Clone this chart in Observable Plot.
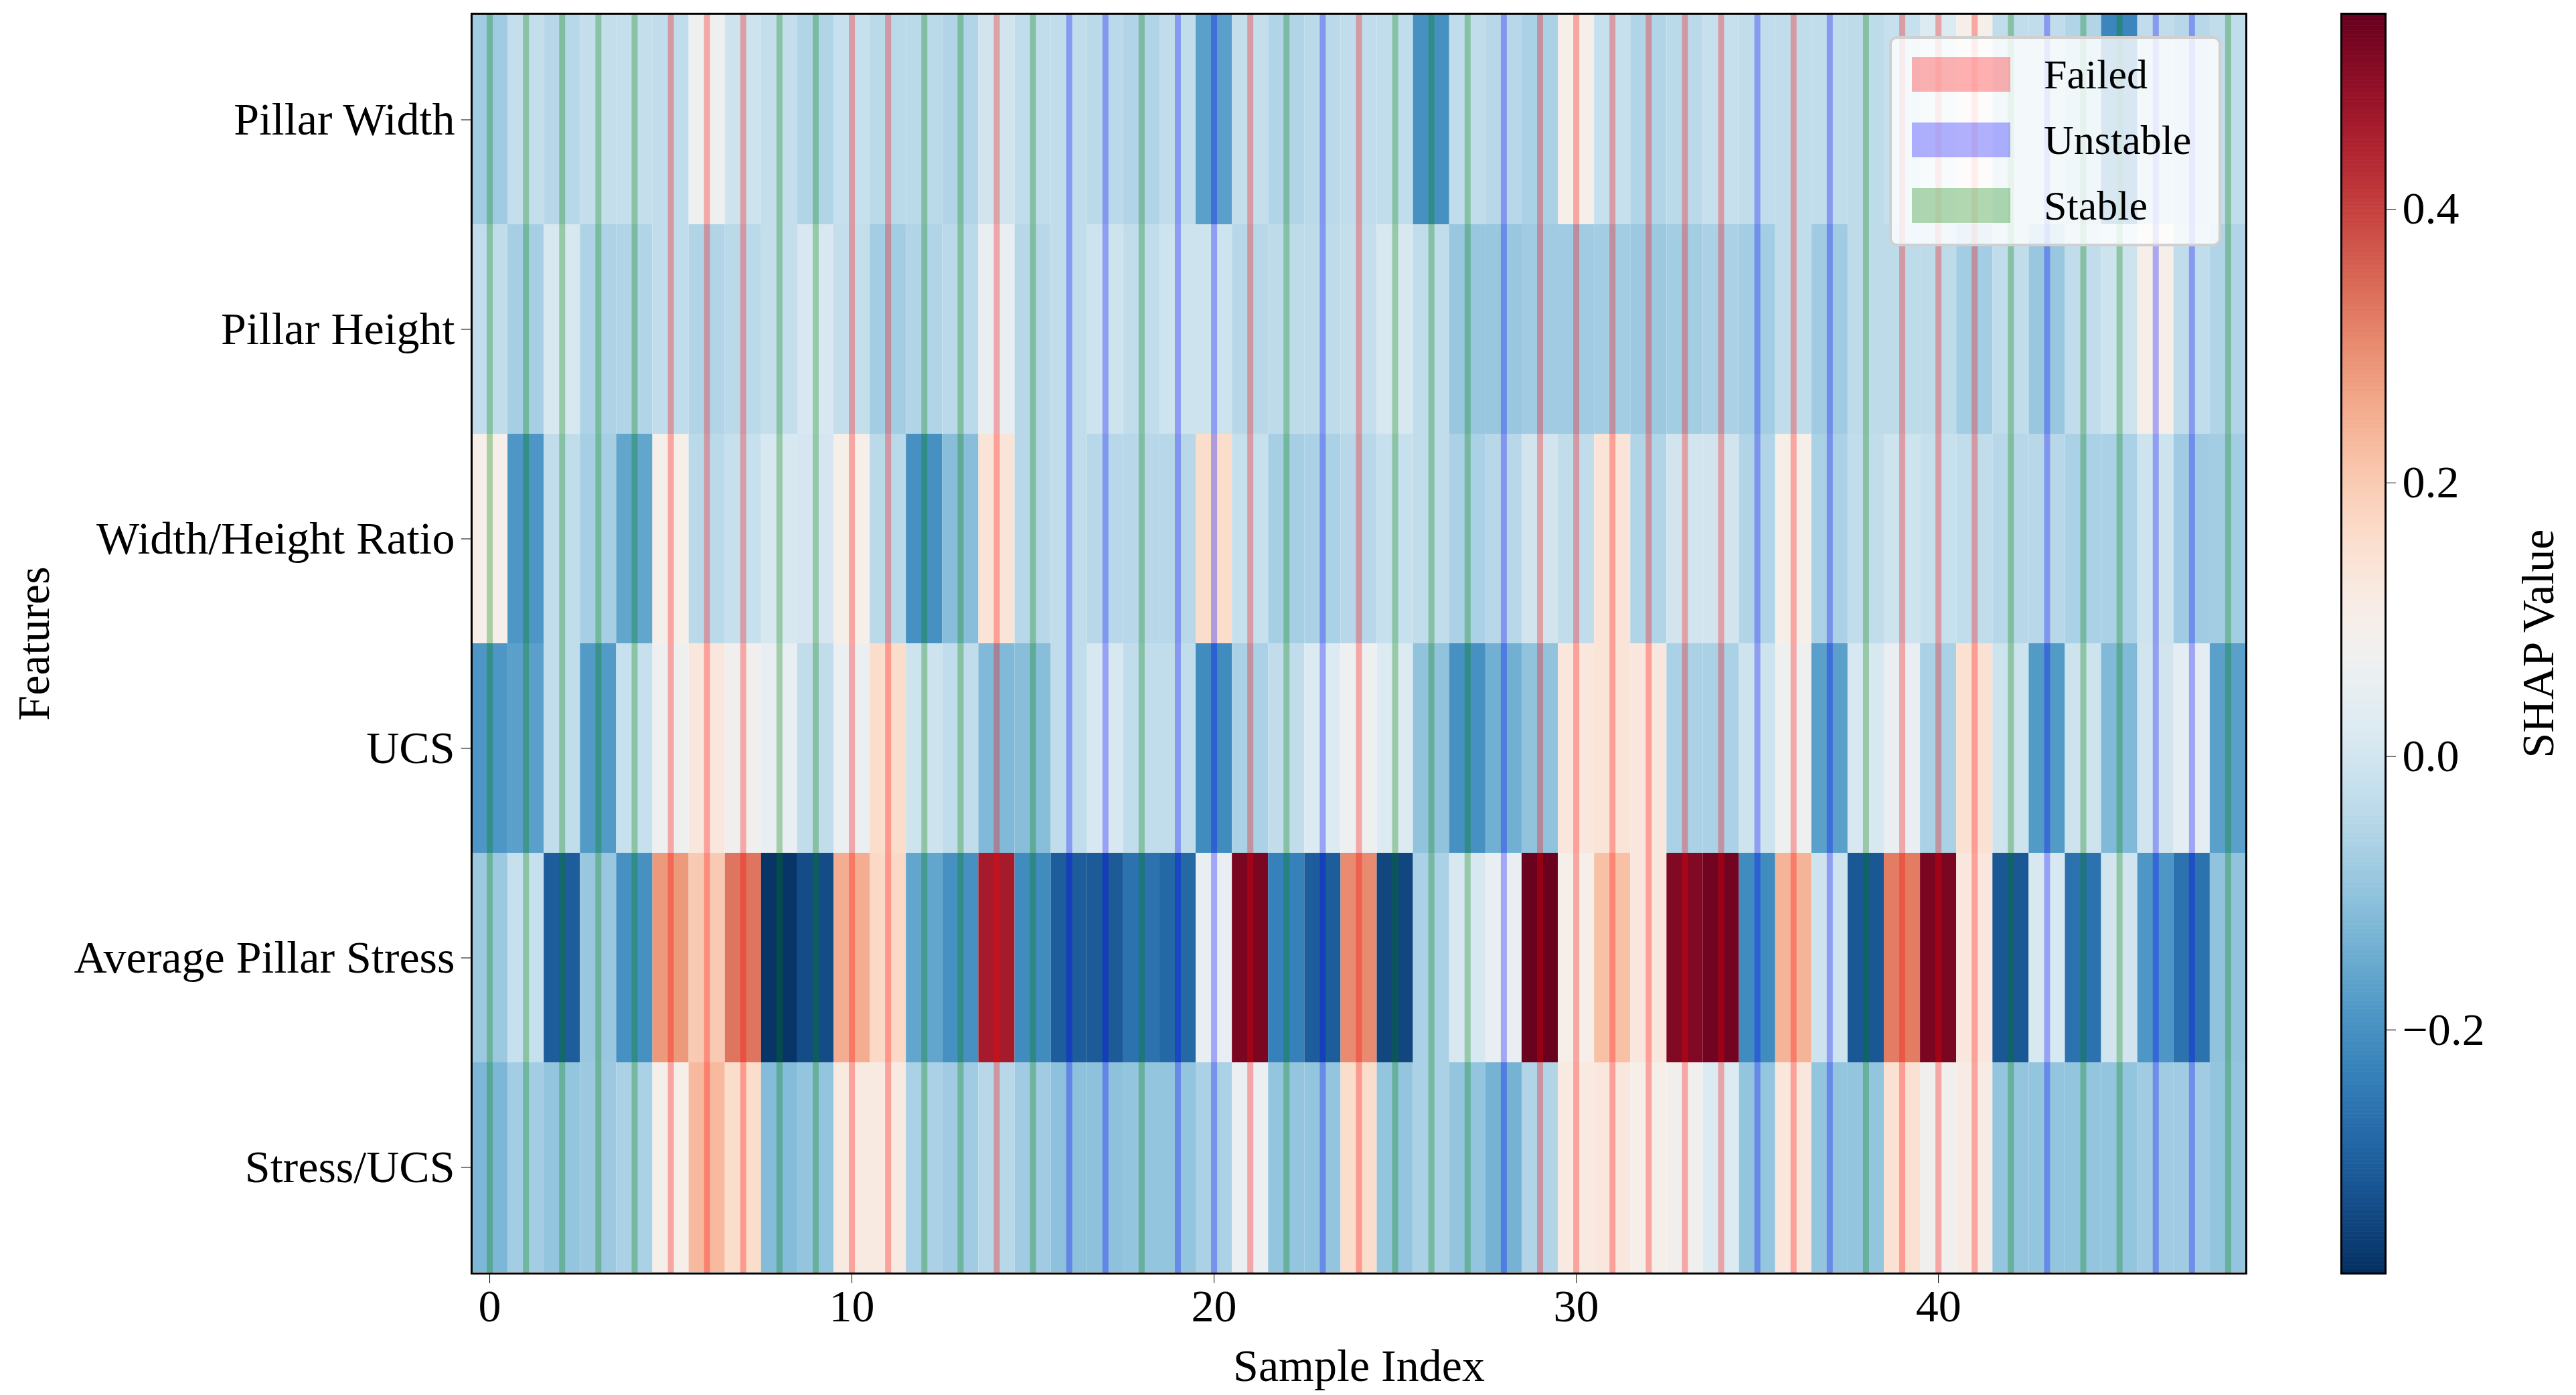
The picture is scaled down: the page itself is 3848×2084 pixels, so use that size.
<!DOCTYPE html>
<html><head><meta charset="utf-8">
<script src="https://cdn.jsdelivr.net/npm/d3@7"></script>
<script src="https://cdn.jsdelivr.net/npm/@observablehq/plot@0.6"></script>
<style>
body{margin:0;background:#fff;width:3848px;height:2084px;position:relative;overflow:hidden;font-family:"Liberation Serif","DejaVu Serif",serif;}
#main{position:absolute;left:0;top:0}
#cbar{position:absolute;left:3430px;top:0}
#legend{position:absolute;left:2822px;top:54px;width:496px;height:314px;background:rgba(255,255,255,0.8);border:4px solid #d0d0d0;border-radius:12px;box-sizing:border-box;padding:4px 30px;}
.row{display:flex;align-items:center;height:98px;font-size:62px;}
.sw{width:147px;height:52px;margin-right:50px;}
</style></head>
<body>
<div id="main"></div><div id="cbar"></div>
<div id="legend">
<div class="row"><div class="sw" style="background:rgba(255,0,0,0.3)"></div>Failed</div>
<div class="row"><div class="sw" style="background:rgba(0,0,255,0.3)"></div>Unstable</div>
<div class="row"><div class="sw" style="background:rgba(0,128,0,0.3)"></div>Stable</div>
</div>
<script>
const features = ["Pillar Width","Pillar Height","Width/Height Ratio","UCS","Average Pillar Stress","Stress/UCS"];
const pillarWidth = [-0.08,-0.025,-0.045,-0.025,-0.025,-0.03,0.07,-0.01,-0.025,-0.055,-0.02,-0.04,-0.04,-0.055,0.0,-0.03,-0.03,-0.04,-0.055,-0.03,-0.17,-0.025,-0.055,-0.04,-0.03,-0.03,-0.2,-0.03,-0.045,-0.065,0.1,-0.02,-0.055,-0.04,-0.02,-0.03,-0.03,-0.03,-0.035,-0.02,0.02,0.1,-0.03,-0.03,-0.055,-0.22,-0.03,-0.045,-0.03];
const pillarHeight = [-0.03,-0.07,0.01,-0.06,-0.055,-0.03,-0.055,-0.04,-0.025,0.01,-0.025,-0.075,-0.055,-0.04,0.05,-0.045,-0.03,-0.01,-0.03,-0.01,-0.01,-0.045,-0.035,-0.035,-0.025,0.01,-0.03,-0.09,-0.09,-0.08,-0.08,-0.075,-0.085,-0.075,-0.065,-0.075,-0.03,-0.08,-0.035,-0.035,-0.035,-0.075,-0.03,-0.09,-0.03,-0.01,0.1,-0.03,-0.055];
const whRatio = [0.1,-0.19,-0.03,-0.07,-0.16,0.1,-0.04,-0.02,0.01,0.005,0.1,-0.04,-0.2,-0.11,0.14,-0.045,-0.03,-0.045,-0.045,-0.045,0.16,-0.02,-0.07,-0.065,-0.045,-0.02,-0.03,-0.065,-0.045,0.0,-0.03,0.14,-0.055,0.0,0.0,-0.055,0.1,-0.065,-0.03,-0.01,-0.02,-0.03,-0.045,-0.045,-0.065,-0.065,-0.01,-0.08,-0.075];
const ucs = [-0.19,-0.17,-0.03,-0.18,-0.02,0.07,0.13,0.08,0.05,-0.03,0.06,0.16,-0.01,-0.03,-0.12,-0.11,-0.03,0.01,-0.03,-0.03,-0.21,-0.065,-0.03,0.02,0.07,0.02,-0.1,-0.2,-0.14,-0.1,0.13,0.14,0.13,-0.065,-0.065,-0.01,0.07,-0.17,0.01,0.05,-0.065,0.15,-0.01,-0.18,-0.01,-0.12,0.0,0.04,-0.17];
const avgStress = [-0.085,-0.02,-0.3,-0.09,-0.2,0.28,0.2,0.33,-0.37,-0.33,0.25,0.17,-0.16,-0.2,0.46,-0.21,-0.3,-0.305,-0.26,-0.28,0.05,0.52,-0.23,-0.3,0.3,-0.34,-0.065,0.01,0.05,0.54,0.1,0.22,0.13,0.51,0.53,-0.21,0.24,-0.01,-0.31,0.32,0.52,0.13,-0.31,0.01,-0.26,0.0,-0.19,-0.26,-0.1];
const stressUcs = [-0.125,-0.075,-0.095,-0.085,-0.065,0.1,0.23,0.16,-0.115,-0.095,0.12,0.12,-0.065,-0.08,-0.045,-0.08,-0.105,-0.105,-0.095,-0.095,-0.065,0.06,-0.095,-0.095,0.16,-0.095,-0.065,-0.095,-0.135,-0.055,0.12,0.13,0.1,0.08,0.02,-0.095,0.13,-0.095,-0.095,0.15,0.08,0.11,-0.095,-0.095,-0.095,-0.095,-0.08,-0.08,-0.095];
const classes = ["S","S","S","S","S","F","F","F","S","S","F","F","S","S","F","S","U","U","S","U","U","F","S","U","F","S","S","S","U","F","F","F","F","F","F","U","F","U","S","F","F","F","S","U","S","S","U","U","S"];
const xTicks = [0,10,20,30,40];
const cbarTicks = [-0.2,0.0,0.2,0.4];
const vmin = -0.378, vmax = 0.543;

const series = [pillarWidth,pillarHeight,whRatio,ucs,avgStress,stressUcs];
const cells = [];
series.forEach((arr,fi)=>arr.forEach((v,i)=>cells.push({i,feature:features[fi],v})));
const lines = classes.map((c,i)=>({i,c}));
const classColor = {F:"red",U:"blue",S:"green"};
const color = {type:"linear",domain:[vmin,vmax],interpolate:t=>d3.interpolateRdBu(1-t)};
const style = {fontFamily:"Liberation Serif",fontSize:"68px",color:"black",background:"white"};

const main = Plot.plot({
  width:3420,height:2084,marginLeft:704,marginRight:65,marginTop:20,marginBottom:182,
  style,
  x:{type:"linear",domain:[-0.5,48.5],ticks:xTicks,tickSize:15,tickPadding:8,label:"Sample Index",labelAnchor:"center",labelArrow:"none",labelOffset:160},
  y:{type:"band",domain:features,tickSize:15,tickPadding:10,label:"Features",labelAnchor:"center",labelArrow:"none",labelOffset:680,padding:0},
  color,
  marks:[
    Plot.rect(cells,{x1:d=>d.i-0.5,x2:d=>d.i+0.5,y:"feature",fill:"v"}),
    Plot.ruleX(lines,{x:"i",stroke:d=>classColor[d.c],strokeOpacity:0.3,strokeWidth:9}),
    Plot.frame({stroke:"black",strokeWidth:3})
  ]
});
document.getElementById("main").appendChild(main);

const grad = d3.range(0,300).map(k=>({a:vmin+(vmax-vmin)*k/300,b:vmin+(vmax-vmin)*(k+1)/300}));
const cb = Plot.plot({
  width:418,height:2084,marginLeft:67,marginRight:285,marginTop:20,marginBottom:182,
  style,
  x:{axis:null,domain:[0,1]},
  y:{domain:[vmin,vmax],axis:"right",ticks:cbarTicks,tickFormat:d3.format(".1f"),tickSize:15,tickPadding:10,label:"SHAP Value",labelAnchor:"center",labelArrow:"none",labelOffset:250},
  color,
  marks:[
    Plot.rect(grad,{x1:0,x2:1,y1:"a",y2:"b",fill:d=>(d.a+d.b)/2,stroke:d=>(d.a+d.b)/2,strokeWidth:0.6}),
    Plot.frame({stroke:"black",strokeWidth:3})
  ]
});
document.getElementById("cbar").appendChild(cb);
</script>
</body></html>
